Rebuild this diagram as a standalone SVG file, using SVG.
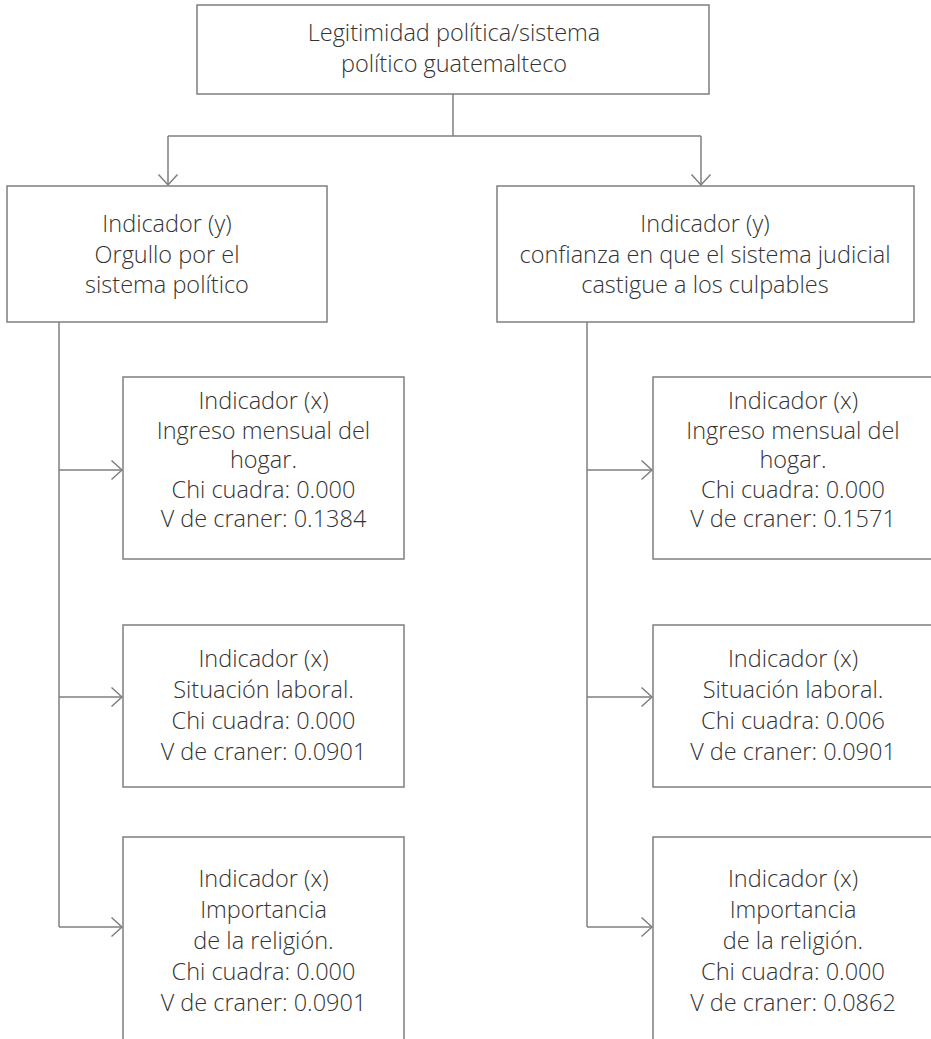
<svg xmlns="http://www.w3.org/2000/svg" width="931" height="1039" viewBox="0 0 931 1039">
<style>
  .box { fill: #ffffff; stroke: #7f7f7f; stroke-width: 1.5; }
  .ln { fill: none; stroke: #7f7f7f; stroke-width: 1.5; }
  .t { font-family: "Open Sans", "Liberation Sans", sans-serif; font-weight: 300; font-size: 23.5px; fill: #333333; text-anchor: middle; }
</style>
<defs>
  <marker id="arr" viewBox="-12 -11 14 22" markerWidth="14" markerHeight="22" refX="0" refY="0" orient="auto" markerUnits="userSpaceOnUse">
    <path d="M -10.5 -9.5 L 0 0 L -10.5 9.5" fill="none" stroke="#7f7f7f" stroke-width="1.5"/>
  </marker>
</defs>
<rect width="931" height="1039" fill="#ffffff"/>

<g id="connectors">
  <path class="ln" d="M 453 94 V 136"/>
  <path class="ln" d="M 168 136 H 701"/>
  <path class="ln" d="M 168 136 V 185" marker-end="url(#arr)"/>
  <path class="ln" d="M 701 136 V 185" marker-end="url(#arr)"/>
  <path class="ln" d="M 59 322 V 927"/>
  <path class="ln" d="M 59 470 H 122" marker-end="url(#arr)"/>
  <path class="ln" d="M 59 697 H 122" marker-end="url(#arr)"/>
  <path class="ln" d="M 59 927 H 122" marker-end="url(#arr)"/>
  <path class="ln" d="M 587 322 V 927"/>
  <path class="ln" d="M 587 470 H 652" marker-end="url(#arr)"/>
  <path class="ln" d="M 587 697 H 652" marker-end="url(#arr)"/>
  <path class="ln" d="M 587 927 H 652" marker-end="url(#arr)"/>
</g>

<g id="root">
  <rect class="box" x="197" y="5" width="512" height="89"/>
  <text class="t" x="454" y="41">Legitimidad política/sistema</text>
  <text class="t" x="454" y="72">político guatemalteco</text>
</g>

<g id="y-left">
  <rect class="box" x="7" y="186" width="320" height="136"/>
  <text class="t" x="167" y="232">Indicador (y)</text>
  <text class="t" x="167" y="262.5">Orgullo por el</text>
  <text class="t" x="167" y="293">sistema político</text>
</g>

<g id="y-right">
  <rect class="box" x="497" y="186" width="417" height="136"/>
  <text class="t" x="705" y="232">Indicador (y)</text>
  <text class="t" x="705" y="262.5">confianza en que el sistema judicial</text>
  <text class="t" x="705" y="293">castigue a los culpables</text>
</g>

<g id="x-left-1">
  <rect class="box" x="123" y="377" width="281" height="182"/>
  <text class="t" x="263.5" y="409">Indicador (x)</text>
  <text class="t" x="263.5" y="438.5">Ingreso mensual del</text>
  <text class="t" x="263.5" y="468">hogar.</text>
  <text class="t" x="263.5" y="497.5">Chi cuadra: 0.000</text>
  <text class="t" x="263.5" y="527">V de craner: 0.1384</text>
</g>

<g id="x-left-2">
  <rect class="box" x="123" y="625" width="281" height="162"/>
  <text class="t" x="263.5" y="667">Indicador (x)</text>
  <text class="t" x="263.5" y="698">Situación laboral.</text>
  <text class="t" x="263.5" y="729">Chi cuadra: 0.000</text>
  <text class="t" x="263.5" y="760">V de craner: 0.0901</text>
</g>

<g id="x-left-3">
  <rect class="box" x="123" y="837" width="281" height="230"/>
  <text class="t" x="263.5" y="887">Indicador (x)</text>
  <text class="t" x="263.5" y="918">Importancia</text>
  <text class="t" x="263.5" y="949">de la religión.</text>
  <text class="t" x="263.5" y="980">Chi cuadra: 0.000</text>
  <text class="t" x="263.5" y="1011">V de craner: 0.0901</text>
</g>

<g id="x-right-1">
  <rect class="box" x="653" y="377" width="281" height="182"/>
  <text class="t" x="793" y="409">Indicador (x)</text>
  <text class="t" x="793" y="438.5">Ingreso mensual del</text>
  <text class="t" x="793" y="468">hogar.</text>
  <text class="t" x="793" y="497.5">Chi cuadra: 0.000</text>
  <text class="t" x="793" y="527">V de craner: 0.1571</text>
</g>

<g id="x-right-2">
  <rect class="box" x="653" y="625" width="281" height="162"/>
  <text class="t" x="793" y="667">Indicador (x)</text>
  <text class="t" x="793" y="698">Situación laboral.</text>
  <text class="t" x="793" y="729">Chi cuadra: 0.006</text>
  <text class="t" x="793" y="760">V de craner: 0.0901</text>
</g>

<g id="x-right-3">
  <rect class="box" x="653" y="837" width="281" height="230"/>
  <text class="t" x="793" y="887">Indicador (x)</text>
  <text class="t" x="793" y="918">Importancia</text>
  <text class="t" x="793" y="949">de la religión.</text>
  <text class="t" x="793" y="980">Chi cuadra: 0.000</text>
  <text class="t" x="793" y="1011">V de craner: 0.0862</text>
</g>
</svg>
